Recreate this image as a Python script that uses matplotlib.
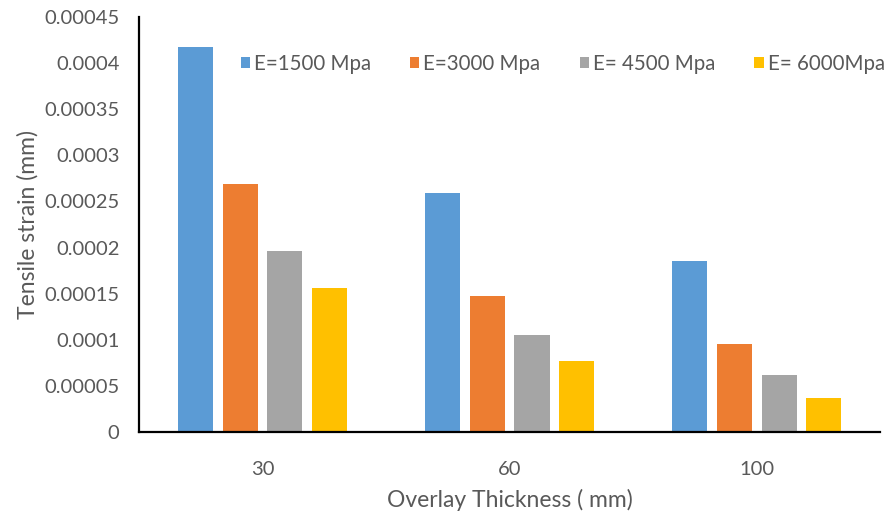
import matplotlib
matplotlib.use("Agg")
import matplotlib.pyplot as plt
import numpy as np

thickness = ["30", "60", "100"]
series_names = ["E=1500 Mpa", "E=3000 Mpa", "E= 4500 Mpa", "E= 6000Mpa"]
e1500 = [0.000417, 0.000259, 0.000185]
e3000 = [0.000269, 0.000147, 0.0000954]
e4500 = [0.000196, 0.000105, 0.0000618]
e6000 = [0.000156, 0.000077, 0.0000369]
y_ticks = [0, 0.00005, 0.0001, 0.00015, 0.0002, 0.00025, 0.0003, 0.00035, 0.0004, 0.00045]
y_tick_labels = ["0", "0.00005", "0.0001", "0.00015", "0.0002", "0.00025",
                 "0.0003", "0.00035", "0.0004", "0.00045"]

colors = ["#5B9BD5", "#ED7D31", "#A5A5A5", "#FFC000"]
text_color = "#595959"
plt.rcParams["font.family"] = ["Lato", "DejaVu Sans"]

fig = plt.figure(figsize=(8.91, 5.12), dpi=100)
ax = fig.add_axes([0.156, 0.156, 0.832, 0.811])

x = np.arange(len(thickness))
width = 0.142
step = 0.181
all_series = [e1500, e3000, e4500, e6000]
for i, (vals, name, c) in enumerate(zip(all_series, series_names, colors)):
    ax.bar(x + (i - 1.5) * step, vals, width, color=c, label=name)

ax.set_xlim(-0.5, 2.5)
ax.set_ylim(0, 0.00045)
ax.set_yticks(y_ticks)
ax.set_yticklabels(y_tick_labels)
ax.set_xticks(x)
ax.set_xticklabels(thickness)
ax.tick_params(axis="both", length=0, labelsize=14.5, colors=text_color)
ax.tick_params(axis="y", pad=14)
ax.tick_params(axis="x", pad=21)

for s in ["top", "right"]:
    ax.spines[s].set_visible(False)
for s in ["left", "bottom"]:
    ax.spines[s].set_color("black")
    ax.spines[s].set_linewidth(1.6)

ax.set_ylabel("Tensile strain (mm)", fontsize=16.5, color=text_color, labelpad=4)
ax.set_xlabel("Overlay Thickness ( mm)", fontsize=16.5, color=text_color, labelpad=8)

leg = ax.legend(loc="upper left", bbox_to_anchor=(0.112, 0.955), ncol=4, frameon=False,
                fontsize=14.8, handlelength=0.45, handleheight=0.45, handletextpad=0.2,
                columnspacing=1.9, labelcolor=text_color)

fig.savefig("out.png", dpi=100)
